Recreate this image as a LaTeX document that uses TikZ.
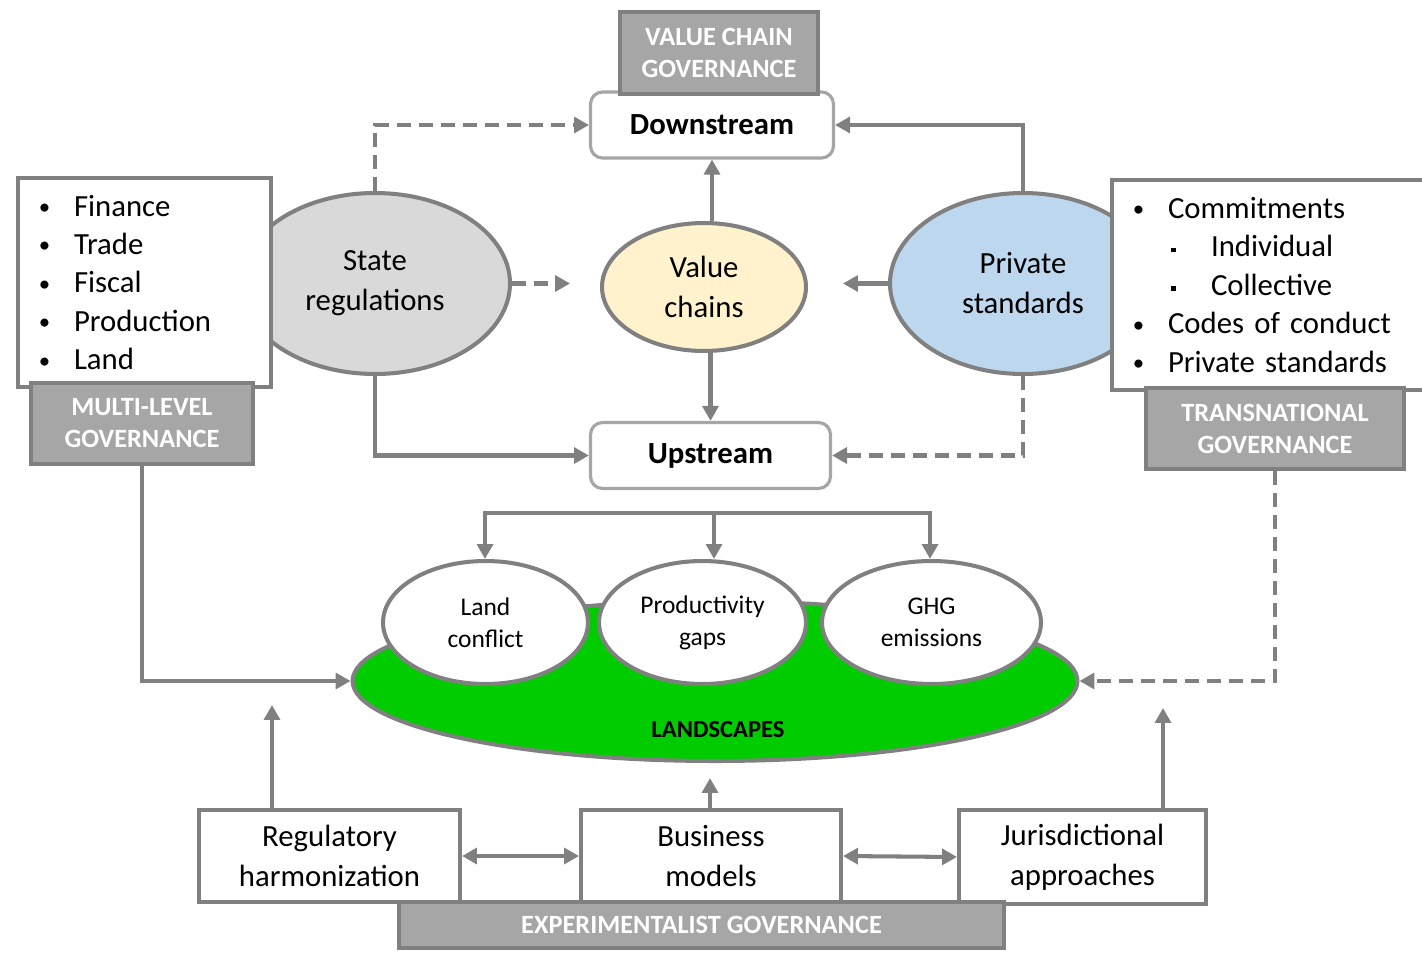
\documentclass[tikz,border=0pt]{standalone}
\usepackage{fontspec}
\setmainfont{Carlito}
\usetikzlibrary{arrows.meta}
\usetikzlibrary{shapes.geometric}
\usetikzlibrary{positioning}

\definecolor{linegray}{HTML}{808080}
\definecolor{boxgray}{HTML}{A6A6A6}
\definecolor{govgray}{HTML}{A6A6A6}
\definecolor{statefill}{HTML}{D9D9D9}
\definecolor{chainfill}{HTML}{FFF2CC}
\definecolor{privfill}{HTML}{BDD7EE}
\definecolor{landgreen}{HTML}{00CC00}

\newcommand\mainfs{\fontsize{17.5}{22.8}\selectfont}
\newcommand\listfs{\fontsize{17.5}{21.9}\selectfont}
\newcommand\govfs{\fontsize{15}{18.2}\selectfont}
\newcommand\smallfs{\fontsize{14.5}{18.2}\selectfont}
\newcommand\bul{\makebox[0.74cm][l]{\hspace*{1pt}\raisebox{1pt}{\fontsize{13}{13}\selectfont\textbullet}}}
\newcommand\subbul{\hspace*{0.8cm}\makebox[0.8cm][l]{\rule[2.6pt]{2.8pt}{2.8pt}}}

\tikzset{
	line/.style={draw=linegray, line width=2.3pt},
	conn/.style={line, -{Triangle[length=8.5pt,width=9pt]}},
	dconn/.style={conn, dash pattern=on 8pt off 4.5pt},
	dbl/.style={line, {Triangle[length=8.5pt,width=9pt]}-{Triangle[length=8.5pt,width=9pt]}},
	govbox/.style={draw=linegray, fill=govgray, line width=2.5pt, text=white, font=\bfseries\govfs, align=center, inner sep=0pt},
	streambox/.style={draw=boxgray, fill=white, line width=1.8pt, rounded corners=0.24cm, font=\bfseries\mainfs, minimum width=4.86cm, minimum height=1.32cm},
	bluebox/.style={line, fill=white, font=\mainfs, align=center, inner sep=0pt},
	listbox/.style={line, fill=white, font=\listfs, align=left, inner xsep=0.38cm, inner ysep=0pt},
	bigoval/.style={ellipse, line, font=\mainfs, align=center, inner sep=0pt},
	smalloval/.style={ellipse, line, fill=white, font=\smallfs, align=center, inner sep=0pt, minimum height=2.46cm}
}

\begin{document}
\begin{tikzpicture}[x=0.02cm, y=-0.02cm]
	\useasboundingbox (0,0) rectangle (1422,953);

	\node[streambox] (down) at (712,125) {Downstream};
	\node[govbox, minimum width=3.96cm, minimum height=1.64cm] (vcgov) at (719,53) {VALUE CHAIN\\GOVERNANCE};
	\node[streambox, minimum width=4.8cm] (up) at (710.5,455.5) {Upstream};

	\node[bigoval, fill=chainfill, minimum width=4.08cm, minimum height=2.56cm] (vchains) at (704,287) {Value\\chains};
	\node[bigoval, fill=statefill, minimum width=5.4cm, minimum height=3.62cm] (statereg) at (375,283.5) {State\\regulations};
	\node[bigoval, fill=privfill, minimum width=5.32cm, minimum height=3.62cm] (privstd) at (1023,283.5) {Private\\standards};

	\node[listbox, text width=4.3cm, minimum height=4.18cm] (leftlist) at (144.5,282.5)
		{\bul Finance\\ \bul Trade\\ \bul Fiscal\\ \bul Production\\ \bul Land};
	\node[govbox, minimum width=4.44cm, minimum height=1.62cm] (mlgov) at (142,423.5) {MULTI-LEVEL\\GOVERNANCE};

	\node[listbox, text width=5.58cm, minimum height=4.2cm] (rightlist) at (1270.5,285)
		{\bul Commitments\\ \subbul Individual\\ \subbul Collective\\ \bul Codes of conduct\\ \bul Private standards};
	\node[govbox, minimum width=5.16cm, minimum height=1.62cm] (tngov) at (1275,428.5) {TRANSNATIONAL\\GOVERNANCE};

	\node[ellipse, line, fill=landgreen, minimum width=14.5cm, minimum height=3.2cm] (landscapes) at (715,681) {};
	\node[font=\bfseries\fontsize{14}{16}\selectfont] (lstext) at (718,730) {LANDSCAPES};
	\node[smalloval, minimum width=4.1cm] (landconf) at (485.5,622.5) {Land\\conflict};
	\node[smalloval, minimum width=4.14cm] (prodgaps) at (702.5,622.5) {Productivity\\gaps};
	\node[smalloval, minimum width=4.38cm] (ghg) at (931.5,622.5) {GHG\\emissions};

	\node[bluebox, minimum width=5.22cm, minimum height=1.84cm] (regharm) at (329.5,856) {Regulatory\\harmonization};
	\node[bluebox, minimum width=5.2cm, minimum height=1.84cm] (bizmod) at (711,856) {Business\\models};
	\node[bluebox, minimum width=4.94cm, minimum height=1.88cm] (jurisd) at (1082.5,857) {Jurisdictional\\approaches};
	\node[govbox, minimum width=12.1cm, minimum height=0.92cm] (expgov) at (701.5,925) {EXPERIMENTALIST GOVERNANCE};

	\draw[dconn] (statereg.north) |- (down.west);
	\draw[dconn, shorten >=0.6cm] (statereg.east) -- (statereg.east -| vchains.west);
	\draw[conn] (statereg.south) |- (up.west);
	\draw[conn] (down.south |- vchains.north) -- (down.south);
	\draw[conn] (up.north |- vchains.south) -- (up.north);
	\draw[conn, shorten >=0.7cm] (privstd.west) -- (privstd.west -| vchains.east);
	\draw[conn] (privstd.north) |- (down.east);
	\draw[dconn] (privstd.south) |- (up.east);

	\coordinate (brl) at (485,513);
	\coordinate (brm) at (714,513);
	\coordinate (brr) at (930,513);
	\draw[conn] (brm) -| (brl |- landconf.north);
	\draw[conn] (brm) -| (brr |- ghg.north);
	\draw[conn] (brm) -- (brm |- prodgaps.north);

	\draw[conn] (mlgov.south) |- (landscapes.west);
	\draw[dconn] (tngov.south) |- (landscapes.east);

	\coordinate (rhtip) at (272,705);
	\coordinate (bmtip) at (710,778);
	\coordinate (jatip) at (1163,708);
	\draw[conn] (regharm.north -| rhtip) -- (rhtip);
	\draw[conn] (bizmod.north -| bmtip) -- (bmtip);
	\draw[conn] (jurisd.north -| jatip) -- (jatip);
	\draw[dbl] (regharm.east) -- (bizmod.west);
	\draw[dbl] (bizmod.east) -- (jurisd.west);
\end{tikzpicture}
\end{document}
